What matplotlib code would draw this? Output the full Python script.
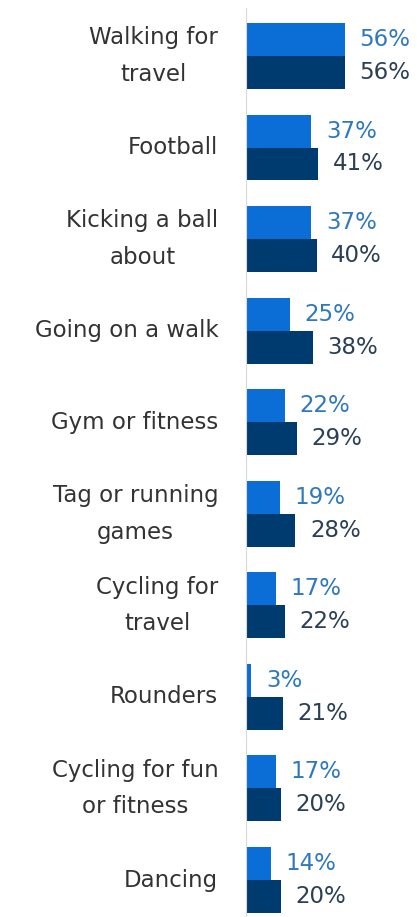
import matplotlib.pyplot as plt

CATEGORIES = [
    "Walking for\ntravel",
    "Football",
    "Kicking a ball\nabout",
    "Going on a walk",
    "Gym or fitness",
    "Tag or running\ngames",
    "Cycling for\ntravel",
    "Rounders",
    "Cycling for fun\nor fitness",
    "Dancing",
]
SERIES_A = [56, 37, 37, 25, 22, 19, 17, 3, 17, 14]
SERIES_B = [56, 41, 40, 38, 29, 28, 22, 21, 20, 20]

BAR_A = "#0A6ED6"
BAR_B = "#003B6F"
TXT_A = "#2F78BE"
TXT_B = "#2B3F55"

plt.rcParams["font.family"] = ["DejaVu Sans"]

fig = plt.figure(figsize=(4.17, 9.17), dpi=100)
ax = fig.add_axes([0.59, 0.0, 0.41, 1.0])

h = 0.36
ys = list(range(len(CATEGORIES)))
ax.barh([y - h / 2 for y in ys], SERIES_A, height=h, color=BAR_A)
ax.barh([y + h / 2 for y in ys], SERIES_B, height=h, color=BAR_B)

for y, a, b in zip(ys, SERIES_A, SERIES_B):
    ax.annotate(f"{a}%", (a, y - h / 2), xytext=(10.5, 0), textcoords="offset points",
                va="center", ha="left", fontsize=16.5, color=TXT_A)
    ax.annotate(f"{b}%", (b, y + h / 2), xytext=(10.5, 0), textcoords="offset points",
                va="center", ha="left", fontsize=16.5, color=TXT_B)
    ax.annotate(CATEGORIES[y], (0, y), xytext=(-20, 0), textcoords="offset points",
                va="center", ha="right", multialignment="center",
                fontsize=16.5, color="#333333", linespacing=1.75)

ax.set_xlim(0, 97)
ax.set_ylim(9.404, -0.611)
ax.set_xticks([])
ax.set_yticks([])
for s in ["top", "right", "bottom"]:
    ax.spines[s].set_visible(False)
ax.spines["left"].set_color("#d9d9d9")
ax.spines["left"].set_bounds(9.404, -0.52)
ax.patch.set_alpha(0)

fig.savefig("out.png", dpi=100)
